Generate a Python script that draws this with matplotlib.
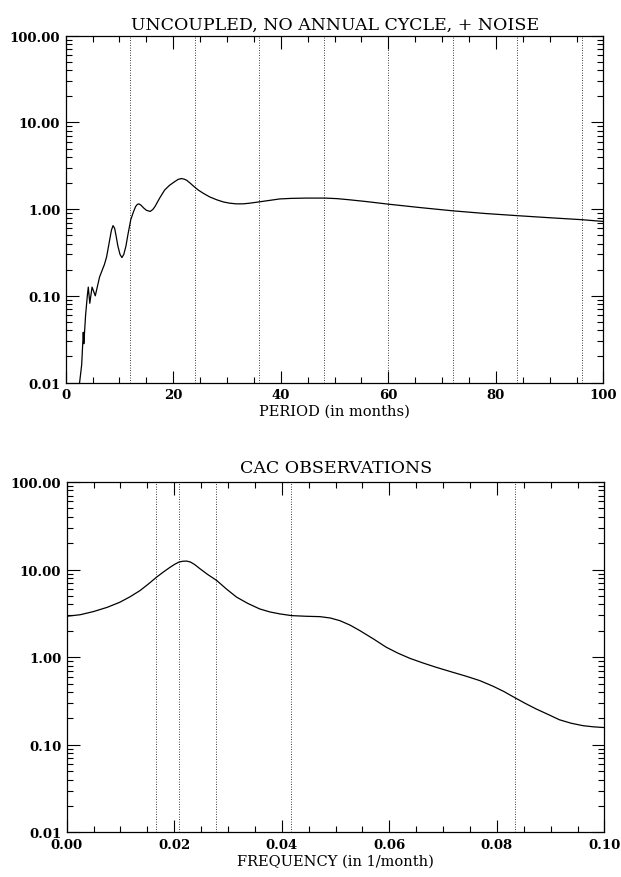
import numpy as np
import matplotlib
matplotlib.use("Agg")
import matplotlib.pyplot as plt
from matplotlib.ticker import MultipleLocator, LogLocator, FormatStrFormatter, NullFormatter

plt.rcParams['font.family'] = ['DejaVu Serif']

# top panel: spectrum vs period (months)
period = [2.5, 2.97, 3.27, 3.37, 3.7, 4.02, 4.2, 4.48, 4.9, 5.5, 6.3, 7.2, 7.6,
          8.2, 8.5, 8.8, 9.1, 9.4, 9.7, 10.1, 10.45, 10.8, 11.2, 11.6, 12.1,
          12.6, 13.0, 13.3, 13.6, 14.0, 14.5, 15.0, 15.7, 16.2, 16.6, 17.5,
          18.4, 19.3, 20.2, 20.9, 21.5, 22.0, 22.5, 23.2, 23.9, 24.7, 25.6,
          26.8, 28.1, 29.3, 30.5, 31.7, 33.0, 34.2, 35.5, 37.5, 39.8, 42.0,
          44.8, 48.2, 50.5, 52.8, 56.0, 60.0, 66.0, 72.0, 78.0, 84.0, 90.0,
          96.0, 100.0]
power_model = [0.009, 0.016, 0.038, 0.028, 0.06, 0.10, 0.126, 0.082, 0.126, 0.10,
               0.165, 0.23, 0.28, 0.45, 0.57, 0.645, 0.60, 0.48, 0.375, 0.30,
               0.276, 0.30, 0.375, 0.52, 0.755, 0.93, 1.07, 1.13, 1.15, 1.11,
               1.03, 0.97, 0.94, 0.99, 1.07, 1.35, 1.66, 1.88, 2.06, 2.20, 2.25,
               2.22, 2.15, 1.98, 1.81, 1.65, 1.52, 1.38, 1.28, 1.21, 1.17, 1.15,
               1.15, 1.17, 1.20, 1.25, 1.31, 1.33, 1.34, 1.34, 1.32, 1.28, 1.22,
               1.14, 1.04, 0.955, 0.89, 0.84, 0.795, 0.755, 0.72]
period_marks = [12, 24, 36, 48, 60, 72, 84, 96]

# bottom panel: spectrum vs frequency (1/month)
freq = [0.0, 0.0025, 0.00494, 0.0075, 0.0099, 0.0118, 0.01362, 0.0152, 0.01672,
        0.018, 0.0192, 0.0201, 0.0209, 0.0216, 0.0223, 0.0230, 0.0238, 0.0248,
        0.0262, 0.0279, 0.0297, 0.0316, 0.0337, 0.0359, 0.0378, 0.0396, 0.0418,
        0.0445, 0.0471, 0.049, 0.0508, 0.0527, 0.0545, 0.057, 0.0594, 0.0616,
        0.0638, 0.0662, 0.0687, 0.0715, 0.0743, 0.0768, 0.0793, 0.0813, 0.0832,
        0.0852, 0.0873, 0.0895, 0.0916, 0.0938, 0.096, 0.098, 0.1]
power_obs = [2.93, 3.05, 3.31, 3.7, 4.24, 4.9, 5.75, 6.85, 8.2, 9.4, 10.6, 11.5,
             12.2, 12.45, 12.5, 12.2, 11.4, 10.2, 8.8, 7.5, 6.0, 4.84, 4.1, 3.55,
             3.28, 3.12, 2.98, 2.93, 2.9, 2.8, 2.61, 2.32, 2.01, 1.62, 1.30, 1.11,
             0.97, 0.86, 0.766, 0.68, 0.605, 0.54, 0.465, 0.405, 0.348, 0.298,
             0.256, 0.222, 0.193, 0.176, 0.165, 0.16, 0.157]
freq_marks = [1/60, 1/48, 1/36, 1/24, 1/12]

fig = plt.figure(figsize=(6.21, 8.78), dpi=100)
ax1 = fig.add_axes([0.1058, 0.5632, 0.866, 0.395])
ax2 = fig.add_axes([0.1074, 0.0509, 0.866, 0.399])


def style(ax):
    ax.set_yscale('log')
    ax.set_ylim(0.01, 100)
    ax.yaxis.set_major_locator(LogLocator(base=10, numticks=10))
    ax.yaxis.set_minor_locator(LogLocator(base=10, subs=np.arange(2, 10), numticks=10))
    ax.yaxis.set_major_formatter(FormatStrFormatter('%.2f'))
    ax.yaxis.set_minor_formatter(NullFormatter())
    ax.tick_params(which='both', direction='in', top=True, right=True, width=0.8,
                   labelsize=9.5, pad=4)
    ax.tick_params(which='major', length=9)
    ax.tick_params(which='minor', length=4.5)
    for lab in ax.get_xticklabels() + ax.get_yticklabels():
        lab.set_fontweight('bold')
    for s in ax.spines.values():
        s.set_linewidth(0.9)


# top
ax1.plot(period, power_model, color='black', lw=0.9)
for p in period_marks:
    ax1.axvline(p, color='black', lw=0.6, ls=(0, (1, 2)))
ax1.set_xlim(0, 100)
ax1.xaxis.set_major_locator(MultipleLocator(20))
ax1.xaxis.set_minor_locator(MultipleLocator(5))
style(ax1)
ax1.set_title('UNCOUPLED, NO ANNUAL CYCLE, + NOISE', fontsize=12.5, pad=5)
ax1.set_xlabel('PERIOD (in months)', fontsize=10.5, labelpad=2)

# bottom
ax2.plot(freq, power_obs, color='black', lw=0.9)
for f in freq_marks:
    ax2.axvline(f, color='black', lw=0.6, ls=(0, (1, 2)))
ax2.set_xlim(0, 0.1)
ax2.xaxis.set_major_locator(MultipleLocator(0.02))
ax2.xaxis.set_minor_locator(MultipleLocator(0.005))
ax2.xaxis.set_major_formatter(FormatStrFormatter('%.2f'))
style(ax2)
ax2.set_title('CAC OBSERVATIONS', fontsize=12.5, pad=7)
ax2.set_xlabel('FREQUENCY (in 1/month)', fontsize=10.5, labelpad=2)

fig.savefig('out.png', dpi=100)
